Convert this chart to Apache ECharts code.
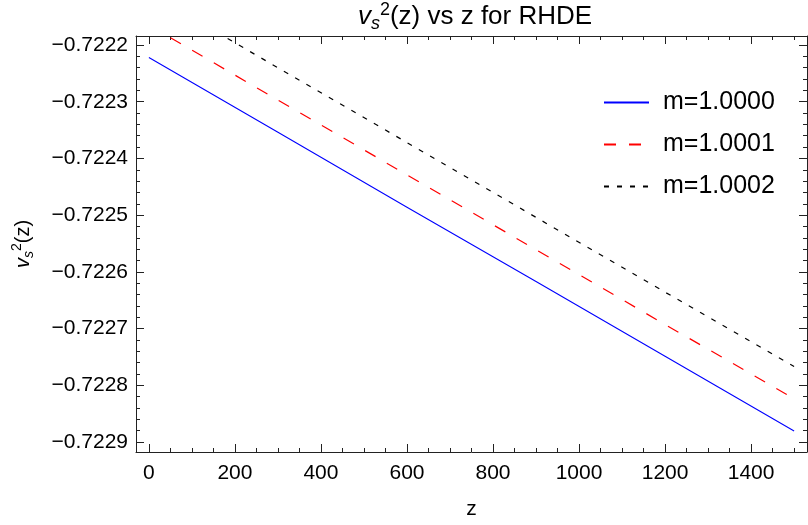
<!DOCTYPE html>
<html>
<head>
<meta charset="utf-8">
<script src="https://cdn.jsdelivr.net/npm/echarts@6/dist/echarts.min.js"></script>
<style>
html,body{margin:0;padding:0;background:#fff;}
#chart{width:808px;height:525px;}
</style>
</head>
<body>
<div id="chart"></div>
<script>
// Data
const zValues = [0, 300, 600, 900, 1200, 1500];
const seriesNames = ['m=1.0000', 'm=1.0001', 'm=1.0002'];
const vs2_m10000 = [-0.722222, -0.722354, -0.722486, -0.722617, -0.722749, -0.722881];
const vs2_m10001 = [-0.722165, -0.722297, -0.722429, -0.722561, -0.722693, -0.722824];
const vs2_m10002 = [-0.722108, -0.722240, -0.722372, -0.722504, -0.722636, -0.722767];
const xTickLabels = ['0', '200', '400', '600', '800', '1000', '1200', '1400'];
const yTickLabels = ['-0.7229', '-0.7228', '-0.7227', '-0.7226', '-0.7225', '-0.7224', '-0.7223', '-0.7222'];

const FONT = '"Liberation Sans", Arial, sans-serif';
const frameColor = '#222';
const toPairs = (xs, ys) => xs.map((x, i) => [x, ys[i]]);

const chart = echarts.init(document.getElementById('chart'), null, {renderer: 'canvas'});

const commonX = {
  type: 'value', min: -30, max: 1530, minInterval: 200, maxInterval: 200,
  axisLine: {show: true, onZero: false, lineStyle: {color: frameColor, width: 1}},
  axisTick: {show: true, inside: true, length: 8, lineStyle: {color: frameColor}},
  minorTick: {show: true, splitNumber: 4, length: 4, lineStyle: {color: frameColor}},
  splitLine: {show: false}
};
const commonY = {
  type: 'value', min: -0.722918, max: -0.722184, minInterval: 0.0001, maxInterval: 0.0001, scale: true,
  axisLine: {show: true, onZero: false, lineStyle: {color: frameColor, width: 1}},
  axisTick: {show: true, inside: true, length: 8, lineStyle: {color: frameColor}},
  minorTick: {show: true, splitNumber: 5, length: 4, lineStyle: {color: frameColor}},
  splitLine: {show: false}
};

chart.setOption({
  animation: false,
  backgroundColor: '#fff',
  title: {
    text: '{v|v}{s|s}{sup|2}{n|(z) vs z for RHDE}',
    left: 470, top: -4, textAlign: 'center',
    textStyle: {
      fontWeight: 'normal',
      rich: {
        v: {fontFamily: FONT, fontSize: 26, fontStyle: 'italic', fontWeight: 'normal', color: '#000', lineHeight: 32},
        s: {fontFamily: FONT, fontSize: 18, fontStyle: 'italic', fontWeight: 'normal', color: '#000', lineHeight: 32, verticalAlign: 'bottom'},
        sup: {fontFamily: FONT, fontSize: 18, fontWeight: 'normal', color: '#000', lineHeight: 32, verticalAlign: 'top'},
        n: {fontFamily: FONT, fontSize: 26, fontWeight: 'normal', color: '#000', lineHeight: 32}
      }
    }
  },
  grid: {left: 136, right: 1, top: 36, bottom: 73, containLabel: false},
  legend: {
    orient: 'vertical', left: 603, top: 90, padding: 0,
    itemWidth: 45, itemHeight: 14, itemGap: 17,
    data: seriesNames,
    itemStyle: {opacity: 0},
    textStyle: {fontFamily: FONT, fontSize: 25, color: '#000', padding: [0, 0, 0, 9]}
  },
  xAxis: [
    Object.assign({}, commonX, {
      position: 'bottom',
      name: 'z', nameLocation: 'middle', nameGap: 47,
      nameTextStyle: {fontFamily: FONT, fontSize: 21, color: '#000'},
      axisLabel: {
        show: true, margin: 11, fontFamily: FONT, fontSize: 21, color: '#000',
        showMinLabel: false, showMaxLabel: false,
        formatter: v => { const s = String(Math.round(v)); return xTickLabels.includes(s) ? s : ''; }
      }
    }),
    Object.assign({}, commonX, {position: 'top', axisLabel: {show: false}})
  ],
  yAxis: [
    Object.assign({}, commonY, {
      position: 'left',
      name: '{v|v}{s|s}{sup|2}{n|(z)}', nameLocation: 'middle', nameGap: 100, nameRotate: 90,
      nameTextStyle: {
        rich: {
          v: {fontFamily: FONT, fontSize: 20, fontStyle: 'italic', color: '#000', lineHeight: 26},
          s: {fontFamily: FONT, fontSize: 14, fontStyle: 'italic', color: '#000', lineHeight: 26, verticalAlign: 'bottom'},
          sup: {fontFamily: FONT, fontSize: 14, color: '#000', lineHeight: 26, verticalAlign: 'top'},
          n: {fontFamily: FONT, fontSize: 20, color: '#000', lineHeight: 26}
        }
      },
      axisLabel: {
        show: true, margin: 8, fontFamily: FONT, fontSize: 21, color: '#000',
        showMinLabel: false, showMaxLabel: false,
        formatter: v => { const s = v.toFixed(4); return yTickLabels.includes(s) ? s.replace('-', '\u2212') : ''; }
      }
    }),
    Object.assign({}, commonY, {position: 'right', axisLabel: {show: false}})
  ],
  series: [
    {name: seriesNames[0], type: 'line', xAxisIndex: 0, yAxisIndex: 0, data: toPairs(zValues, vs2_m10000),
     symbol: 'none', clip: true, lineStyle: {color: '#0000ff', width: 1.1, type: 'solid'}, itemStyle: {color: '#0000ff'}},
    {name: seriesNames[1], type: 'line', xAxisIndex: 0, yAxisIndex: 0, data: toPairs(zValues, vs2_m10001),
     symbol: 'none', clip: true, lineStyle: {color: '#ff0000', width: 1.2, type: [12, 13]}, itemStyle: {color: '#ff0000'}},
    {name: seriesNames[2], type: 'line', xAxisIndex: 0, yAxisIndex: 0, data: toPairs(zValues, vs2_m10002),
     symbol: 'none', clip: true, lineStyle: {color: '#000000', width: 1.2, type: [5, 8]}, itemStyle: {color: '#000000'}}
  ]
});
</script>
</body>
</html>
